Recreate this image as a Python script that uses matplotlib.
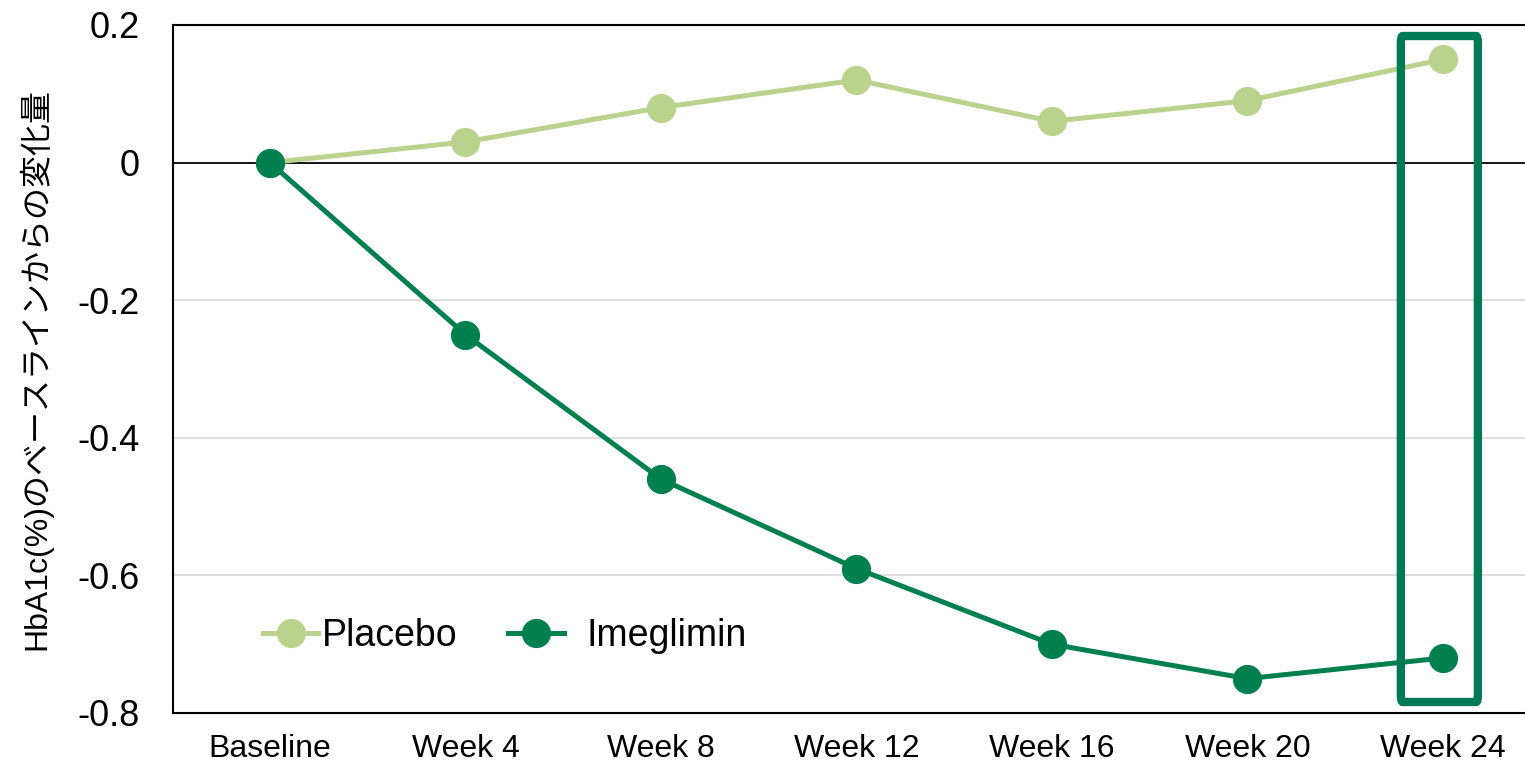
import matplotlib.pyplot as plt
from matplotlib.patches import FancyBboxPatch

weeks = ['Baseline', 'Week 4', 'Week 8', 'Week 12', 'Week 16', 'Week 20', 'Week 24']
placebo = [0, 0.03, 0.08, 0.12, 0.06, 0.09, 0.15]
imeglimin = [0, -0.25, -0.46, -0.59, -0.70, -0.75, -0.72]
yticks = [0.2, 0, -0.2, -0.4, -0.6, -0.8]
ytick_labels = ['0.2', '0', '-0.2', '-0.4', '-0.6', '-0.8']

c_placebo = '#B9D38D'
c_imeg = '#00804F'

plt.rcParams['font.family'] = ['Liberation Sans', 'Noto Sans CJK JP']

fig = plt.figure(figsize=(15.25, 7.63), dpi=100)
ax = fig.add_axes([173 / 1525, 1 - 713 / 763, (1525 - 173) / 1525, (713 - 25) / 763])

x = list(range(len(weeks)))
ax.set_xlim(-0.496, 6.42)
ax.set_ylim(-0.8, 0.2)

# grid
for yv in [-0.2, -0.4, -0.6]:
    ax.axhline(yv, color='#D9D9D9', lw=1.2, zorder=1)
ax.axhline(0, color='black', lw=1.3, zorder=2)

l1, = ax.plot(x, placebo, color=c_placebo, lw=3.6, marker='o', ms=20, label='Placebo', zorder=3)
l2, = ax.plot(x, imeglimin, color=c_imeg, lw=3.6, marker='o', ms=20, label='Imeglimin', zorder=4)

# highlight box around week 24
box = FancyBboxPatch((5.785, -0.784), 6.179 - 5.785, 0.184 + 0.784,
                     boxstyle='round,pad=0,rounding_size=0.01', fill=False,
                     edgecolor='#007A55', lw=6, zorder=5)
ax.add_patch(box)

ax.set_xticks(x)
ax.set_xticklabels(weeks, fontsize=23)
ax.set_yticks(yticks)
ax.set_yticklabels(ytick_labels, fontsize=26)
ax.tick_params(axis='both', length=0)
ax.tick_params(axis='x', pad=15)
ax.tick_params(axis='y', pad=24)

for s in ['left', 'bottom', 'top']:
    ax.spines[s].set_color('black')
    ax.spines[s].set_linewidth(1.5)
ax.spines['right'].set_visible(False)

ax.set_ylabel('HbA1c(%)のベースラインからの変化量', fontsize=23, labelpad=18)

# two separate legends so the gaps match
leg1 = ax.legend([l1], ['Placebo'], loc='center left', bbox_to_anchor=(0.0666, 0.112),
                 frameon=False, fontsize=27, handlelength=1.47, handletextpad=0.1,
                 borderpad=0, borderaxespad=0)
ax.add_artist(leg1)
ax.legend([l2], ['Imeglimin'], loc='center left', bbox_to_anchor=(0.2478, 0.112),
          frameon=False, fontsize=27, handlelength=1.5, handletextpad=0.6,
          borderpad=0, borderaxespad=0)

fig.savefig('out.png', dpi=100)
